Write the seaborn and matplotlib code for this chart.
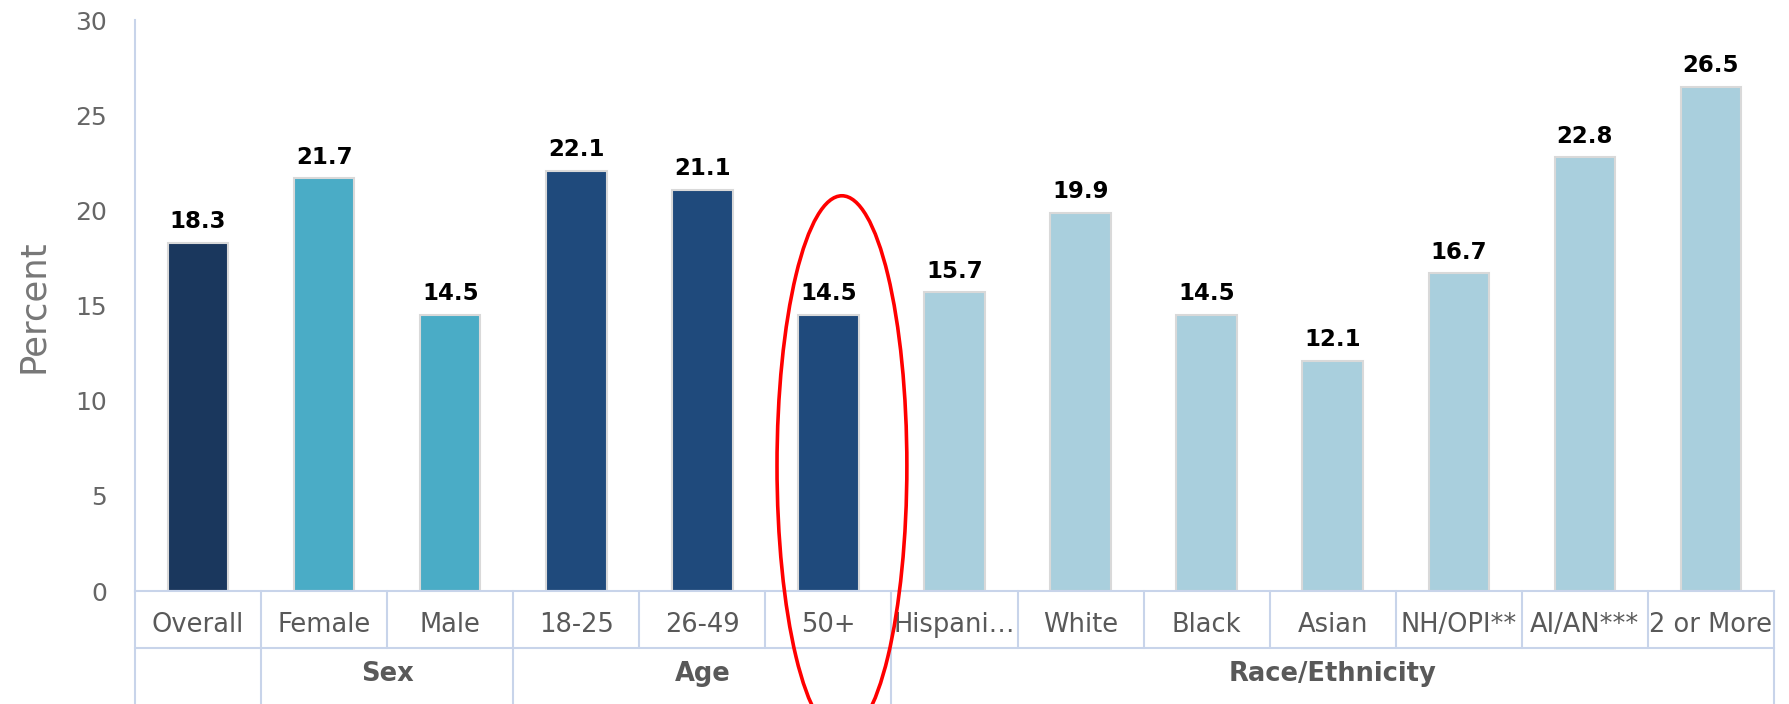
import matplotlib
matplotlib.use("Agg")
import matplotlib.pyplot as plt
import seaborn as sns
import pandas as pd
from matplotlib.patches import Ellipse
from matplotlib.lines import Line2D
import matplotlib.transforms as mtransforms

categories = ["Overall", "Female", "Male", "18-25", "26-49", "50+",
              "Hispani\u2026", "White", "Black", "Asian", "NH/OPI**", "AI/AN***", "2 or More"]
values = [18.3, 21.7, 14.5, 22.1, 21.1, 14.5, 15.7, 19.9, 14.5, 12.1, 16.7, 22.8, 26.5]
groups = ["Overall", "Sex", "Sex", "Age", "Age", "Age",
          "Race/Ethnicity", "Race/Ethnicity", "Race/Ethnicity", "Race/Ethnicity",
          "Race/Ethnicity", "Race/Ethnicity", "Race/Ethnicity"]
yticks = [0, 5, 10, 15, 20, 25, 30]

palette = {"Overall": "#1a375d", "Sex": "#4aacc6", "Age": "#1f4a7c", "Race/Ethnicity": "#a9cfdd"}

df = pd.DataFrame({"category": categories, "value": values, "group": groups})

sns.set_theme(style="white")
plt.rcParams["font.family"] = ["DejaVu Sans"]

fig = plt.figure(figsize=(17.89, 7.04), dpi=100)
ax = fig.add_axes([0.0755, 0.1605, 0.9161, 0.8105])

sns.barplot(data=df, x="category", y="value", hue="group", palette=palette,
            dodge=False, width=0.48, order=categories, ax=ax, legend=False,
            saturation=1, edgecolor="#d9d9d9", linewidth=1.5)

ax.set_xlim(-0.5, len(categories) - 0.5)
ax.set_ylim(0, 30)
ax.set_yticks(yticks)
ax.set_yticklabels([str(t) for t in yticks], fontsize=18, color="#666666")
ax.tick_params(axis="y", length=0, pad=20)
ax.set_xticks([])
ax.set_xlabel("")
ax.set_ylabel("Percent", fontsize=25.5, color="#777777", labelpad=18)

line_c = "#c8d4ea"
for s in ["top", "right"]:
    ax.spines[s].set_visible(False)
ax.spines["left"].set_color(line_c)
ax.spines["left"].set_linewidth(1.5)
ax.spines["bottom"].set_color(line_c)
ax.spines["bottom"].set_linewidth(1.5)

# value labels
for i, v in enumerate(values):
    ax.annotate(f"{v:.1f}", (i, v), xytext=(0, 7), textcoords="offset points",
                ha="center", va="bottom", fontsize=16.5, fontweight="bold", color="black")

# category table below
trans = mtransforms.blended_transform_factory(ax.transData, ax.transAxes)
row1 = -0.0999
row2 = -0.21
n = len(categories)
ax.add_line(Line2D([-0.5, n - 0.5], [row1, row1], transform=trans, color=line_c, lw=1.5, clip_on=False))
for b in range(n + 1):
    ax.add_line(Line2D([b - 0.5, b - 0.5], [0, row1], transform=trans, color=line_c, lw=1.5, clip_on=False))
bounds = [0]
for i in range(1, n):
    if groups[i] != groups[i - 1]:
        bounds.append(i)
bounds.append(n)
for b in bounds:
    ax.add_line(Line2D([b - 0.5, b - 0.5], [row1, row2], transform=trans, color=line_c, lw=1.5, clip_on=False))

for i, c in enumerate(categories):
    ax.text(i, -0.0596, c, transform=trans, ha="center", va="center", fontsize=18.5, color="#595959")

for k in range(len(bounds) - 1):
    g = groups[bounds[k]]
    if g == "Overall":
        continue
    mid = (bounds[k] + bounds[k + 1] - 1) / 2
    ax.text(mid, -0.1455, g, transform=trans, ha="center", va="center", fontsize=18.5,
            fontweight="bold", color="#595959")

# highlight ellipse around 50+
ax.add_patch(Ellipse((5.107, 6.58), width=1.03, height=28.4, fill=False,
                     edgecolor="#ff0000", lw=2.6, clip_on=False, zorder=5))

fig.savefig("out.png", dpi=100)
